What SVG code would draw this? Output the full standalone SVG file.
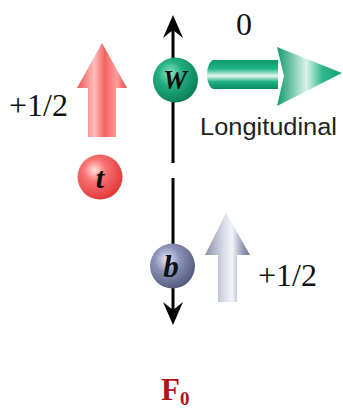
<svg xmlns="http://www.w3.org/2000/svg" width="343" height="412" viewBox="0 0 343 412">
<defs>
<style>
.num{font-family:"Liberation Serif","Times New Roman",serif;font-size:32px;fill:#111}
.lbl{font-family:"Liberation Sans",Arial,sans-serif;font-size:23px;fill:#222}
.ball{font-family:"Liberation Serif","Times New Roman",serif;font-weight:bold;font-style:italic;fill:#111;text-anchor:middle}
.axis{stroke:#000;stroke-width:3;fill:none}
</style>
<radialGradient id="gRed" cx="0.38" cy="0.35" r="0.7">
<stop offset="0" stop-color="#ffe2e2"/><stop offset="0.35" stop-color="#f87272"/><stop offset="1" stop-color="#e03636"/>
</radialGradient>
<radialGradient id="gGreen" cx="0.38" cy="0.35" r="0.7">
<stop offset="0" stop-color="#8fe3c4"/><stop offset="0.4" stop-color="#1fae7f"/><stop offset="1" stop-color="#0b7d57"/>
</radialGradient>
<radialGradient id="gBlue" cx="0.38" cy="0.35" r="0.7">
<stop offset="0" stop-color="#e4e8f6"/><stop offset="0.4" stop-color="#8c93b8"/><stop offset="1" stop-color="#4f5679"/>
</radialGradient>
<linearGradient id="gRedArrow" x1="0" y1="0" x2="1" y2="0">
<stop offset="0" stop-color="#ee5656"/><stop offset="0.35" stop-color="#ffbcbc"/><stop offset="0.55" stop-color="#f26464"/><stop offset="0.8" stop-color="#ff9c9c"/><stop offset="1" stop-color="#e04848"/>
</linearGradient>
<linearGradient id="gGreyArrow" x1="0" y1="0" x2="1" y2="0">
<stop offset="0" stop-color="#8a90aa"/><stop offset="0.4" stop-color="#d6d9e6"/><stop offset="0.6" stop-color="#f4f5fa"/><stop offset="0.85" stop-color="#9096b0"/><stop offset="1" stop-color="#6c7290"/>
</linearGradient>
<linearGradient id="gGreenShaft" x1="0" y1="0" x2="0" y2="1">
<stop offset="0" stop-color="#0f9a6c"/><stop offset="0.3" stop-color="#20b384"/><stop offset="0.55" stop-color="#e6f7f0"/><stop offset="0.75" stop-color="#22b084"/><stop offset="1" stop-color="#0c8a60"/>
</linearGradient>
<linearGradient id="gGreenHead" x1="0" y1="0" x2="1" y2="0">
<stop offset="0" stop-color="#0f9a6c"/><stop offset="0.45" stop-color="#d9f3ea"/><stop offset="0.7" stop-color="#30b88c"/><stop offset="1" stop-color="#12a072"/>
</linearGradient>
</defs>
<rect width="343" height="412" fill="#fff"/>

<g id="connectors">
<line class="axis" x1="173" y1="28" x2="173" y2="163"/>
<polygon points="173,15 183,38 173,30 163,38" fill="#000"/>
<line class="axis" x1="173" y1="178" x2="173" y2="312"/>
<polygon points="173,325 183,302 173,310 163,302" fill="#000"/>
</g>

<g id="spin-t">
<path d="M88,88 L88,137 L116,137 L116,88 L127,88 L102,43 L77,88 Z" fill="url(#gRedArrow)"/>
<text class="num" x="9" y="116">+1/2</text>
</g>

<g id="node-t">
<circle cx="100" cy="177" r="22.5" fill="url(#gRed)"/>
<text class="ball" x="100" y="188" font-size="30">t</text>
</g>

<g id="node-W">
<circle cx="175.5" cy="80" r="22.5" fill="url(#gGreen)"/>
<text class="ball" x="175" y="89" font-size="27">W</text>
</g>

<g id="spin-W">
<path d="M214,60 L278,60 L278,89 L214,89 A7,14.5 0 0 1 214,60 Z" fill="url(#gGreenShaft)"/>
<polygon points="277,47 342,73 277,106 284,76" fill="url(#gGreenHead)"/>
<text class="num" x="236" y="35">0</text>
<text class="lbl" x="200" y="135" textLength="137" lengthAdjust="spacingAndGlyphs">Longitudinal</text>
</g>

<g id="node-b">
<circle cx="172.5" cy="266" r="22.5" fill="url(#gBlue)"/>
<text class="ball" x="171" y="277" font-size="31">b</text>
</g>

<g id="spin-b">
<path d="M218,255 L218,302 L237,302 L237,255 L250,255 L226,213 L205,255 Z" fill="url(#gGreyArrow)"/>
<text class="num" x="258" y="286">+1/2</text>
</g>

<g id="title">
<text x="161" y="400" font-family="'Liberation Serif','Times New Roman',serif" font-weight="bold" font-size="31" fill="#b3121b">F<tspan font-size="19" dy="5">0</tspan></text>
</g>
</svg>
